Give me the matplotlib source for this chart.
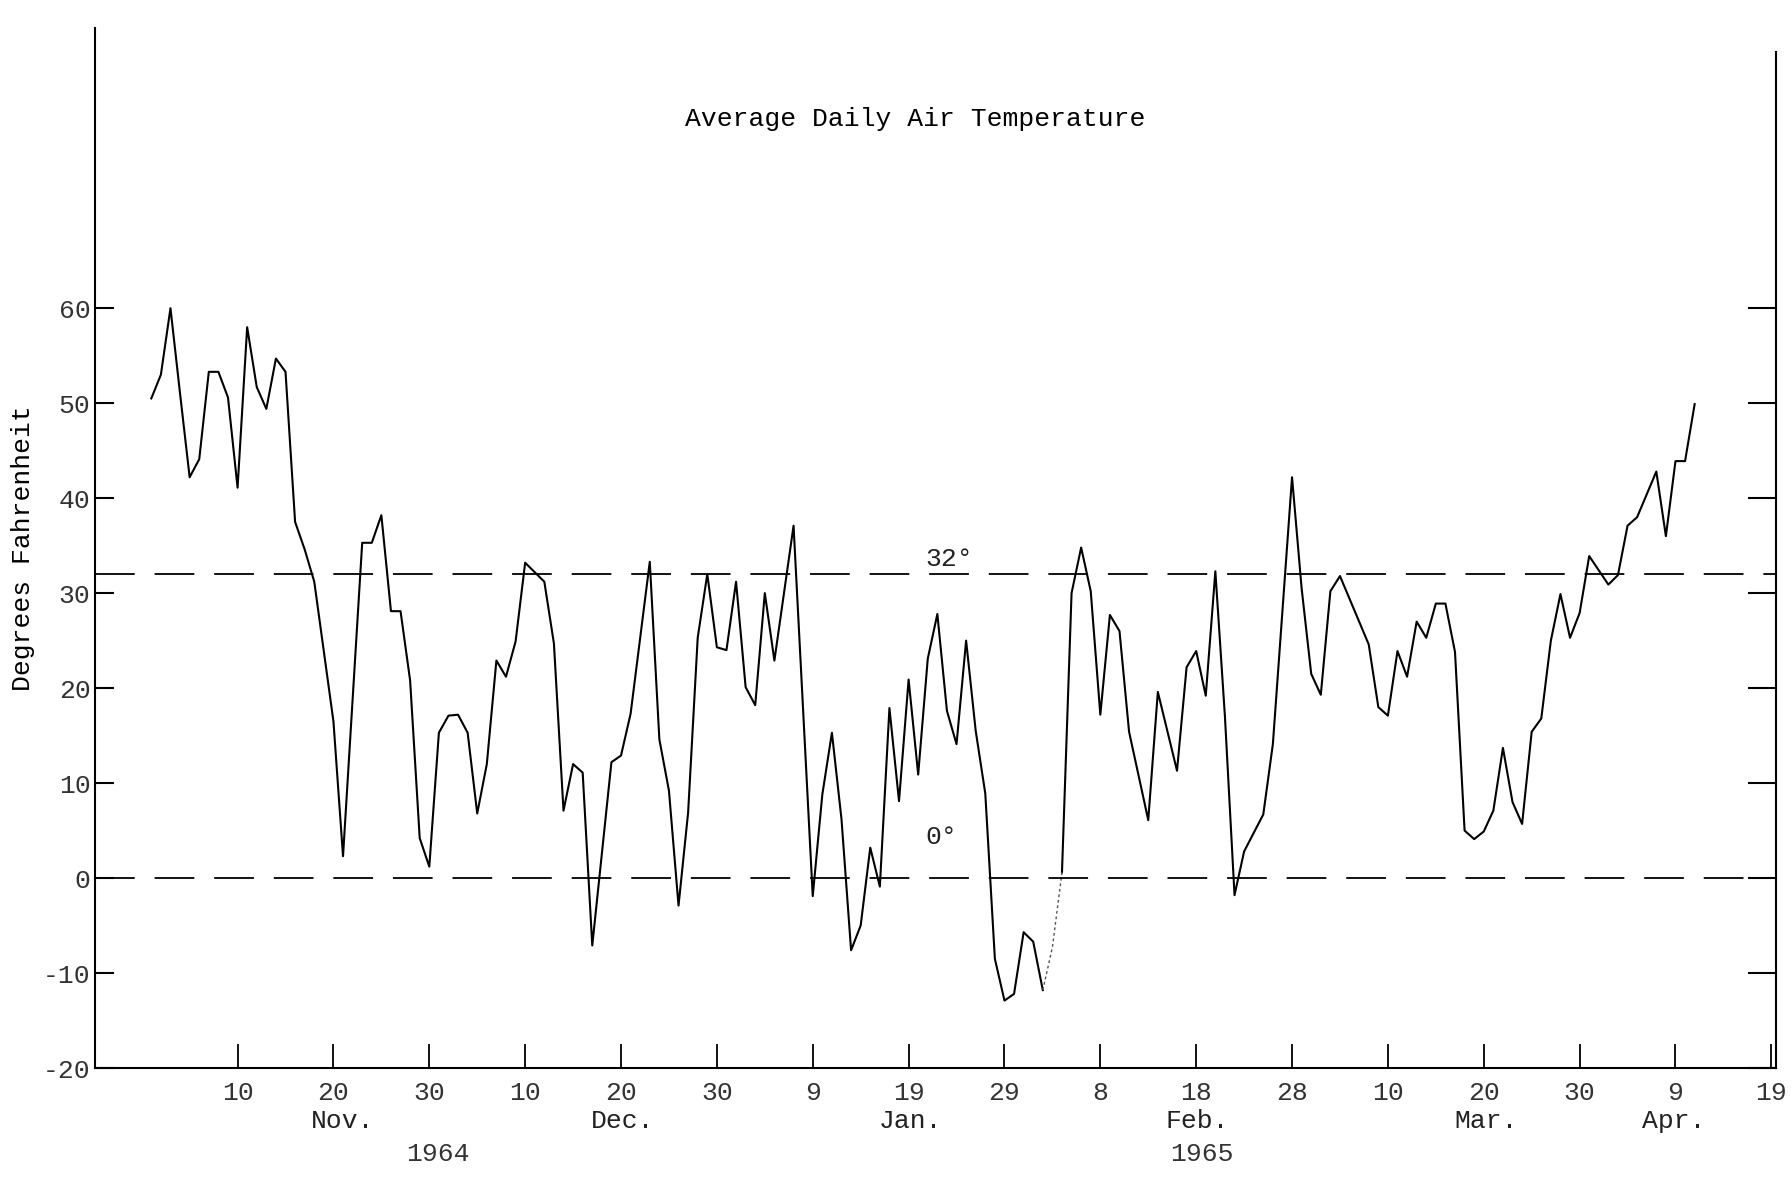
import numpy as np
import matplotlib.pyplot as plt

plt.rcParams['font.family'] = ['Liberation Mono', 'DejaVu Sans Mono']

# day 0 = 1 Nov 1964; values are average daily air temperature (deg F)
days = [0, 1, 2, 3, 4, 5, 6, 7, 8, 9, 10, 11, 12, 13, 14, 15, 16, 17, 19, 20,
        22, 23, 24, 25, 26, 27, 28, 29,
        30, 31, 32, 33, 34, 35, 36, 37, 38, 39, 41, 42, 43, 44, 45, 46, 48, 49,
        50, 52, 53, 54, 55, 56, 57, 58, 59, 60,
        61, 62, 63, 64, 65, 67, 69, 70, 71, 72, 73, 74, 75, 76, 77, 78, 79, 80,
        81, 82, 83, 84, 85, 86, 87, 88, 89, 90, 91,
        92, 93, 94, 95, 96, 97, 98, 99, 100, 101, 102, 104, 105, 107, 108, 109,
        110, 111, 112, 113, 114, 116, 117, 119,
        120, 121, 122, 123, 124, 127, 128, 129, 130, 131, 132, 133, 134, 135,
        136, 137, 138, 139, 140, 141, 142, 143, 144, 145, 146, 147, 148, 149, 150,
        152, 153, 154, 155, 157, 158, 159, 160, 161]
temps = [50.5, 53, 60, 51, 42.2, 44.1, 53.3, 53.3, 50.6, 41.1, 58, 51.7, 49.4, 54.7,
         53.3, 37.5, 34.6, 31.2, 16.5, 2.3,
         35.3, 35.3, 38.2, 28.1, 28.1, 20.8, 4.2, 1.2,
         15.3, 17.1, 17.2, 15.3, 6.8, 12, 22.9, 21.2, 24.9, 33.2, 31.2, 24.7, 7.1,
         12, 11.1, -7.1, 12.2, 12.9,
         17.3, 33.3, 14.6, 9.2, -2.9, 6.9, 25.3, 32, 24.3, 24,
         31.2, 20.1, 18.2, 30, 22.9, 37.1, -1.9, 8.8, 15.3, 6.2, -7.6, -5, 3.2,
         -0.9, 17.9, 8.1, 20.9, 10.9,
         23.1, 27.8, 17.6, 14.1, 25, 15.5, 8.9, -8.5, -12.9, -12.2, -5.7,
         -6.7, -11.8, -7.3, 0.6, 30, 34.8, 30.2, 17.2, 27.7, 26, 15.4, 6.1, 19.6,
         11.3, 22.2, 23.9,
         19.2, 32.3, 17, -1.8, 2.8, 6.7, 14.1, 42.2,
         30.5, 21.5, 19.3, 30.2, 31.8, 24.6, 18, 17.1, 23.9, 21.2, 27, 25.3, 28.9,
         28.9, 23.8, 5, 4.1, 4.9, 7.1, 13.7, 8, 5.7, 15.4, 16.8, 25, 29.9, 25.3,
         27.9, 33.9,
         30.9, 31.9, 37.1, 38, 42.8, 36, 43.9, 43.9, 49.9]

tick_days = [9, 19, 29, 39, 49, 59, 69, 79, 89, 99, 109, 119, 129, 139, 149, 159, 169]
tick_labels = ['10', '20', '30', '10', '20', '30', '9', '19', '29', '8', '18', '28',
               '10', '20', '30', '9', '19']
months = ['Nov.', 'Dec.', 'Jan.', 'Feb.', 'Mar.', 'Apr.']
month_days = [20, 49.2, 79.2, 109.1, 139.2, 158.8]
years = ['1964', '1965']
year_days = [29.9, 109.6]
yticks = [-20, -10, 0, 10, 20, 30, 40, 50, 60]

days = np.array(days)
temps = np.array(temps)

fig = plt.figure(figsize=(17.91, 11.77), dpi=100)
ax = fig.add_axes([0.0529, 0.0926, 0.9388, 0.8836])

# the stretch around 1-3 Feb is only faintly inked
faint = (days >= 93) & (days <= 95)
ax.plot(days[days <= 93], temps[days <= 93], color='black', lw=1.5)
ax.plot(days[days >= 95], temps[days >= 95], color='black', lw=1.5)
ax.plot(days[faint], temps[faint], color='#555555', lw=1.0, ls=(0, (2, 2)))

ax.axhline(32, color='black', lw=1.3, ls=(0, (22, 11)))
ax.axhline(0, color='black', lw=1.3, ls=(0, (22, 11)))
ax.text(80.7, 32.3, '32°', fontsize=19, ha='left', va='bottom', color='#222222')
ax.text(80.7, 4.3, '0°', fontsize=19, ha='left', va='center', color='#222222')

ax.set_xlim(-5.9, 169.5)
ax.set_ylim(-20, 89.5)

for side in ['top']:
    ax.spines[side].set_visible(False)
for side in ['left', 'right', 'bottom']:
    ax.spines[side].set_linewidth(1.5)
ax.spines['right'].set_bounds(-20, 87)

ax.set_yticks(yticks)
ax.set_yticklabels([str(v) for v in yticks])
ax.tick_params(axis='y', direction='in', length=14, width=1.5, pad=3,
               labelsize=19, labelcolor='#333333')
ax.set_xticks(tick_days)
ax.set_xticklabels(tick_labels)
ax.tick_params(axis='x', direction='in', length=17, width=1.3, pad=9,
               labelsize=19, labelcolor='#333333')

# right-hand ticks are longer and unlabelled
axr = ax.twinx()
axr.set_ylim(ax.get_ylim())
axr.set_yticks(yticks)
axr.set_yticklabels([])
axr.tick_params(axis='y', direction='in', length=20, width=1.5)
for side in ['top', 'left', 'bottom', 'right']:
    axr.spines[side].set_visible(False)

for name, d in zip(months, month_days):
    ax.text(d, -25.6, name, fontsize=19, ha='center', va='center', color='#222222')
for name, d in zip(years, year_days):
    ax.text(d, -29.1, name, fontsize=19, ha='center', va='center', color='#333333')

ax.text(79.7, 79.9, 'Average Daily Air Temperature', fontsize=19,
        ha='center', va='center', color='black')
ax.text(-13.4, 34.7, 'Degrees Fahrenheit', fontsize=19, rotation=90,
        ha='center', va='center', color='black')

fig.savefig('out.png', dpi=100)
